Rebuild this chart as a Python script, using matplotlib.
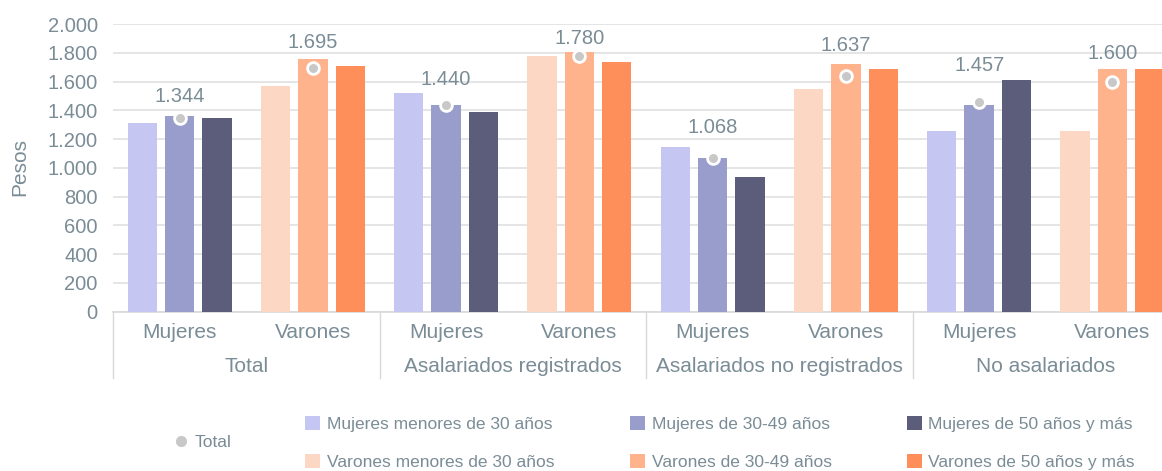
import matplotlib
matplotlib.use('Agg')
import matplotlib.pyplot as plt
from matplotlib.lines import Line2D
from matplotlib.patches import Patch
from matplotlib import font_manager as fm
import matplotlib.transforms as mtransforms
import numpy as np

# ---------------- data ----------------
groups = ['Total', 'Asalariados registrados', 'Asalariados no registrados', 'No asalariados']
sexes = ['Mujeres', 'Varones']
labels_mujeres = ['Mujeres menores de 30 años', 'Mujeres de 30-49 años', 'Mujeres de 50 años y más']
labels_varones = ['Varones menores de 30 años', 'Varones de 30-49 años', 'Varones de 50 años y más']

mujeres_menores_30 = [1313, 1523, 1146, 1255]
mujeres_30_49 = [1357, 1438, 1069, 1440]
mujeres_50_mas = [1345, 1389, 937, 1610]
varones_menores_30 = [1570, 1779, 1549, 1255]
varones_30_49 = [1758, 1802, 1723, 1688]
varones_50_mas = [1709, 1737, 1688, 1688]
total_mujeres = [1344, 1440, 1068, 1457]
total_varones = [1695, 1780, 1637, 1600]
yticks = [0, 200, 400, 600, 800, 1000, 1200, 1400, 1600, 1800, 2000]

# ---------------- style ----------------
col_m = ['#c5c6f2', '#999dcb', '#5c5d7a']
col_v = ['#fcd7c4', '#ffb38c', '#ff8f5a']
txt = '#7a8c96'
grid_c = '#e0e0e0'
offsets = [-0.28, 0.0, 0.28]
bar_w = 0.22
label_dy_m = [16, 18, 22, 26]   # points above marker
label_dy_v = [18, 12, 22, 20]


def has_font(name):
    try:
        fm.findfont(fm.FontProperties(family=name), fallback_to_default=False)
        return True
    except Exception:
        return False

main_font = 'Liberation Sans' if has_font('Liberation Sans') else 'DejaVu Sans'
narrow = has_font('Liberation Sans Narrow')
leg_font = 'Liberation Sans Narrow' if narrow else main_font
leg_size = 15 if narrow else 12.5

plt.rcParams['font.family'] = [main_font, 'DejaVu Sans']

W, H = 1162, 471
fig = plt.figure(figsize=(W / 100, H / 100), dpi=100)
ax_left, ax_right, ax_top, ax_bot = 113, 1179, 24, 311.7
ax = fig.add_axes([ax_left / W, 1 - ax_bot / H, (ax_right - ax_left) / W, (ax_bot - ax_top) / H])

ng = len(groups)
base_m = np.arange(ng) * 2
base_v = np.arange(ng) * 2 + 1
m_series = [mujeres_menores_30, mujeres_30_49, mujeres_50_mas]
v_series = [varones_menores_30, varones_30_49, varones_50_mas]

for k in range(3):
    ax.bar(base_m + offsets[k], m_series[k], width=bar_w, color=col_m[k], zorder=3)
    ax.bar(base_v + offsets[k], v_series[k], width=bar_w, color=col_v[k], zorder=3)

for base, tot, dys in [(base_m, total_mujeres, label_dy_m), (base_v, total_varones, label_dy_v)]:
    ax.plot(base, tot, 'o', ls='none', ms=8.5, mfc='#c8c8c8', mec='white', mew=2, zorder=5)
    for x, v, dy in zip(base, tot, dys):
        ax.annotate(f'{v:,}'.replace(',', '.'), (x, v), xytext=(0, dy), textcoords='offset points',
                    ha='center', va='center', fontsize=14.5, color=txt, zorder=6)

ax.set_xlim(-0.5, 2 * ng - 0.5)
ax.set_ylim(0, 2000)
ax.set_yticks(yticks)
ax.set_yticklabels([f'{t:,}'.replace(',', '.') for t in yticks])
ax.tick_params(axis='y', length=0, pad=11, labelsize=14.5, labelcolor=txt)
ax.yaxis.grid(True, color=grid_c, lw=1.2, zorder=0)
ax.set_axisbelow(True)
for s in ['left', 'right', 'top']:
    ax.spines[s].set_visible(False)
ax.spines['bottom'].set_color('#d8d8d8')
ax.spines['bottom'].set_linewidth(1.2)

slots = np.arange(2 * ng)
ax.set_xticks(slots)
ax.set_xticklabels(sexes * ng)
ax.tick_params(axis='x', length=0, pad=8, labelsize=15, labelcolor=txt)

trans = mtransforms.blended_transform_factory(ax.transData, ax.transAxes)
axh = ax_bot - ax_top
for b in np.arange(ng + 1) * 2 - 0.5:
    ax.add_line(Line2D([b, b], [0, -(378 - ax_bot) / axh], transform=trans,
                       color='#d8d8d8', lw=1, clip_on=False))
for g, name in enumerate(groups):
    ax.text(2 * g + 0.5, -(366 - ax_bot) / axh, name, transform=trans, ha='center', va='center',
            fontsize=15, color=txt)

fig.text(20 / W, 1 - 167 / H, 'Pesos', rotation=90, ha='center', va='center', fontsize=15, color=txt)

# legends
handles, labels = [], []
for k in range(3):
    handles += [Patch(facecolor=col_m[k]), Patch(facecolor=col_v[k])]
    labels += [labels_mujeres[k], labels_varones[k]]
F = leg_size * 100 / 72
leg = fig.legend(handles, labels, ncol=3, loc='upper left',
                 bbox_to_anchor=(305 / W, 1 - 416 / H), frameon=False,
                 prop={'family': leg_font, 'size': leg_size},
                 handlelength=15 / F, handleheight=15 / F, handletextpad=7 / F,
                 columnspacing=75 / F, labelspacing=(43 - 1.2 * F) / F, borderpad=0,
                 borderaxespad=0)
for t in leg.get_texts():
    t.set_color(txt)

leg2 = fig.legend([Line2D([], [], marker='o', ls='none', ms=7, mfc='#c8c8c8', mec='#c8c8c8')],
                  ['Total'], loc='center left', bbox_to_anchor=(172 / W, 1 - 442 / H), frameon=False,
                  prop={'family': leg_font, 'size': leg_size}, handlelength=1.0, handletextpad=0.3,
                  borderpad=0, borderaxespad=0)
for t in leg2.get_texts():
    t.set_color(txt)

fig.savefig('out.png', dpi=100)
